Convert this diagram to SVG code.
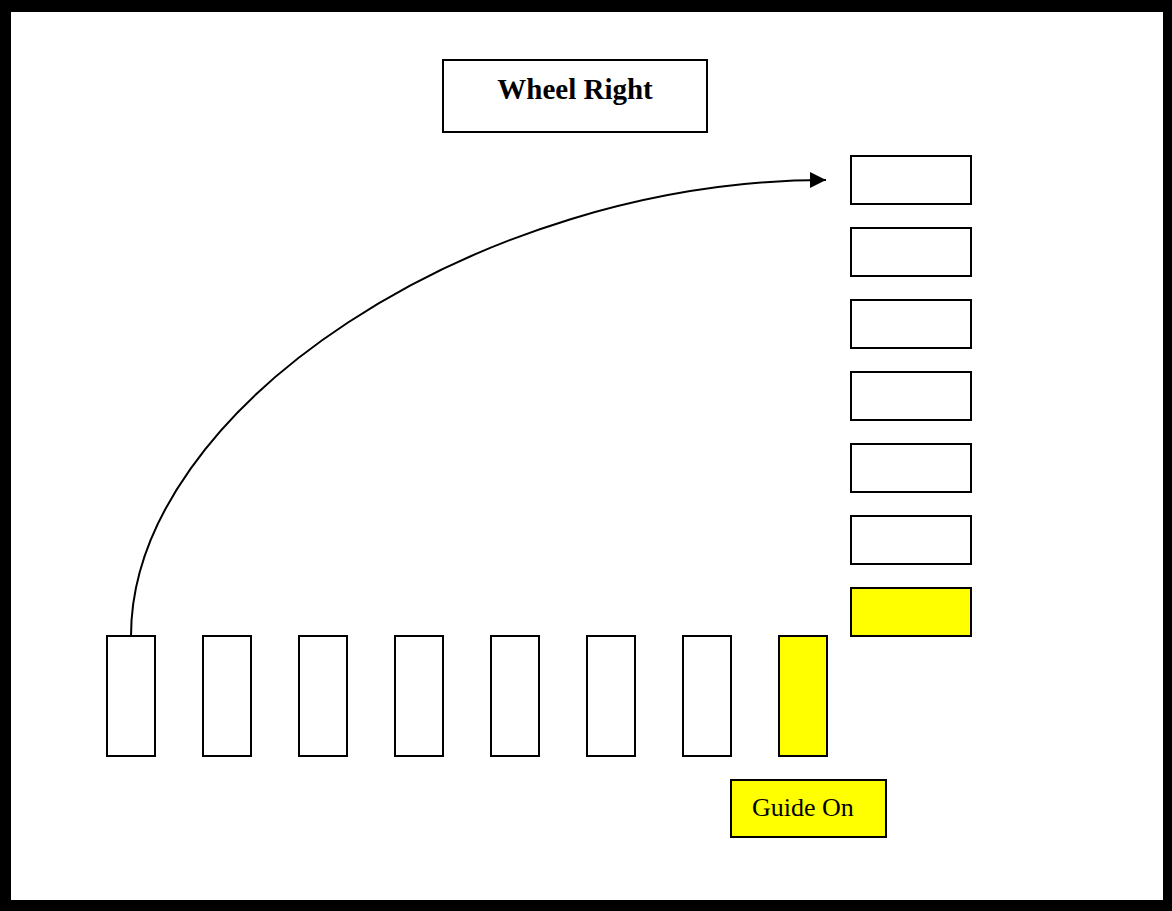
<svg xmlns="http://www.w3.org/2000/svg" width="1172" height="911" viewBox="0 0 1172 911">
<style>
.box{fill:#fff;stroke:#000;stroke-width:2}
.yel{fill:#ffff00;stroke:#000;stroke-width:2}
.t{font-family:"Liberation Serif","Times New Roman",serif;fill:#000}
</style>
<defs>
<marker id="ah" markerUnits="userSpaceOnUse" markerWidth="18" markerHeight="18" refX="16" refY="8" orient="auto">
<path d="M0,0 L16,8 L0,16 Z" fill="#000"/>
</marker>
</defs>
<rect x="0" y="0" width="1172" height="911" fill="#000"/>
<rect x="11" y="12" width="1152" height="888" fill="#fff"/>
<g id="title">
<rect class="box" x="443" y="60" width="264" height="72"/>
<text class="t" x="575" y="99" font-size="29" font-weight="bold" text-anchor="middle">Wheel Right</text>
</g>
<g id="col">
<rect class="box" x="851" y="156" width="120" height="48"/>
<rect class="box" x="851" y="228" width="120" height="48"/>
<rect class="box" x="851" y="300" width="120" height="48"/>
<rect class="box" x="851" y="372" width="120" height="48"/>
<rect class="box" x="851" y="444" width="120" height="48"/>
<rect class="box" x="851" y="516" width="120" height="48"/>
<rect class="yel" x="851" y="588" width="120" height="48"/>
</g>
<g id="row">
<rect class="box" x="107" y="636" width="48" height="120"/>
<rect class="box" x="203" y="636" width="48" height="120"/>
<rect class="box" x="299" y="636" width="48" height="120"/>
<rect class="box" x="395" y="636" width="48" height="120"/>
<rect class="box" x="491" y="636" width="48" height="120"/>
<rect class="box" x="587" y="636" width="48" height="120"/>
<rect class="box" x="683" y="636" width="48" height="120"/>
<rect class="yel" x="779" y="636" width="48" height="120"/>
</g>
<g id="guide">
<rect class="yel" x="731" y="780" width="155" height="57"/>
<text class="t" x="752" y="816" font-size="26">Guide On</text>
</g>
<g id="connectors">
<path d="M131,636 C131,408 478,180 826,180" fill="none" stroke="#000" stroke-width="2" marker-end="url(#ah)"/>
</g>
</svg>
